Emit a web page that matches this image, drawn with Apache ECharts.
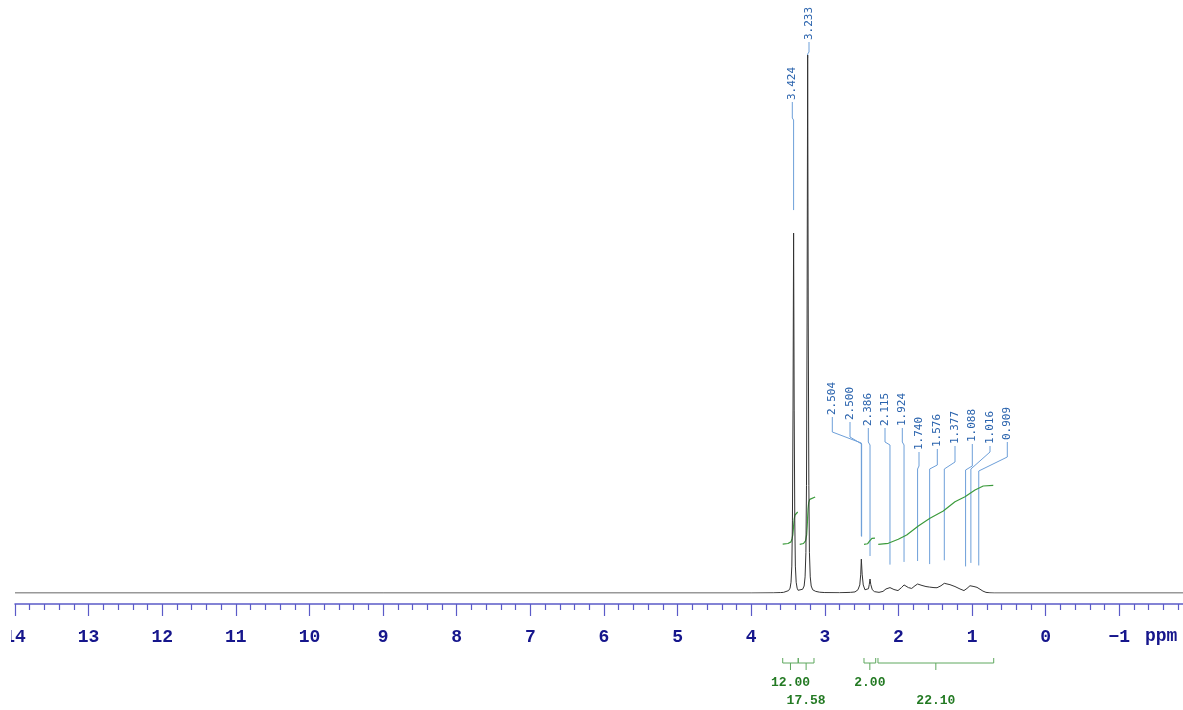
<!DOCTYPE html>
<html><head><meta charset="utf-8">
<script src="https://cdn.jsdelivr.net/npm/echarts@6/dist/echarts.min.js"></script>
<style>html,body{margin:0;padding:0;background:#fff}#c{width:1183px;height:710px}</style>
</head><body><div id="c"></div>
<script>
// ---- DATA (ppm, intensity; tallest peak = 100) ----
const SPECTRUM = [
[14.0,0],[4.0,0],[3.70,0.03],[3.60,0.08],[3.56,0.12],[3.533,0.2],[3.492,0.45],[3.472,0.9],[3.459,2.0],[3.448,5.0],
[3.440,13.4],[3.432,34],[3.424,66.9],[3.416,34],[3.408,13.4],[3.400,5.0],[3.389,2.0],[3.376,0.9],[3.363,0.5],[3.338,0.35],
[3.301,0.7],[3.281,1.3],[3.268,3.0],[3.257,7.5],[3.249,20],[3.241,50],[3.233,100],[3.225,50],[3.217,20],[3.209,7.5],
[3.198,3.0],[3.185,1.3],[3.165,0.6],[3.124,0.3],[3.070,0.15],[3.060,0.15],[3.052,0.5],[3.044,0.15],[3.00,0.08],[2.80,0.05],
[2.65,0.12],[2.590,0.2],[2.550,0.6],[2.525,1.5],[2.512,3.5],[2.504,6.3],[2.500,6.2],[2.493,3.5],[2.478,1.5],[2.455,0.6],
[2.434,0.35],[2.407,0.8],[2.396,1.6],[2.386,2.6],[2.376,1.6],[2.355,0.6],[2.325,0.25],[2.264,0.12],[2.210,0.3],[2.169,0.75],
[2.115,1.0],[2.061,0.65],[2.006,0.45],[1.959,1.0],[1.924,1.5],[1.864,1.0],[1.820,0.85],[1.775,1.35],[1.740,1.67],[1.680,1.4],
[1.626,1.2],[1.576,1.1],[1.517,1.0],[1.476,0.98],[1.422,1.35],[1.377,1.8],[1.300,1.55],[1.232,1.2],[1.164,0.75],[1.110,0.45],
[1.069,0.85],[1.028,1.35],[0.974,1.2],[0.933,1.05],[0.892,0.7],[0.852,0.35],[0.811,0.12],[0.757,0.03],[0.70,0],[-2.0,0]
];
const PEAK_PPM = [3.424,3.233,2.504,2.500,2.386,2.115,1.924,1.740,1.576,1.377,1.088,1.016,0.909];
const PEAK_LABELS = ['3.424','3.233','2.504','2.500','2.386','2.115','1.924','1.740','1.576','1.377','1.088','1.016','0.909'];

const INTEGRAL_A = [[3.572,9.1],[3.50,9.2],[3.46,9.5],[3.445,10.1],[3.435,10.8],[3.428,11.8],[3.422,12.8],[3.415,13.8],[3.405,14.5],[3.39,14.85],[3.368,15.05]];
const INTEGRAL_B = [[3.341,9.05],[3.29,9.2],[3.262,9.7],[3.247,10.8],[3.239,12.5],[3.233,14.2],[3.227,15.7],[3.219,16.8],[3.205,17.4],[3.18,17.7],[3.131,17.85]];
const INTEGRAL_C = [[2.468,9.05],[2.42,9.15],[2.40,9.35],[2.39,9.7],[2.38,10.0],[2.36,10.15],[2.319,10.2]];
const INTEGRAL_D = [[2.274,9.05],[2.138,9.24],[2.002,9.98],[1.888,10.78],[1.730,12.45],[1.572,13.88],[1.391,15.24],[1.232,16.97],[1.096,17.9],[0.960,19.14],[0.848,19.89],[0.712,20.02]];

const INTEGRAL_FROM = [3.572,3.361,2.468,2.278];
const INTEGRAL_TO = [3.361,3.147,2.309,0.706];
const INTEGRAL_VALUES = ['12.00','17.58','2.00','22.10'];

// ---- LAYOUT (pixels) ----
const LBL = {
  x:          [792.3,809,832.3,850,868.3,885,902.3,919,937.3,955,972.3,990,1007.3],
  textBottom: [100,40,415,420,426,426,426,450,447,444,442,444,440],
  bend1:      [118,52,432,437,442,442,442,466,465,462,466,452,457],
  bend2:      [120,54,443,444,445,445,445,469,469,469,470,469,471]
};

function intensityAt(p){
  for (let k=0;k<SPECTRUM.length-1;k++){
    const a=SPECTRUM[k], b=SPECTRUM[k+1];
    if (p<=a[0] && p>=b[0]) { const t=(a[0]-p)/(a[0]-b[0]||1); return a[1]+(b[1]-a[1])*t; }
  }
  return 0;
}

const chart = echarts.init(document.getElementById('c'), null, {renderer:'canvas'});
const BLUE_TXT='#2a63ad', BLUE_LN='#6d9fd9', GREEN='#3c9b3c', GREEN_TXT='#237a23', AXIS='#5b5bc8', AXIS_TXT='#16168c';
const MONO='"Liberation Mono","DejaVu Sans Mono",monospace';

function renderPeakLabel(params, api){
  const i=params.dataIndex, ppm=api.value(0);
  const px=api.coord([ppm,0])[0];
  const top=api.coord([ppm,intensityAt(ppm)])[1];
  const lx=LBL.x[i], tb=LBL.textBottom[i], b1=LBL.bend1[i], b2=LBL.bend2[i];
  const end=Math.max(top-23,b2+4);
  return {type:'group',children:[
    {type:'polyline',shape:{points:[[lx,tb+2],[lx,b1],[px,b2],[px,end]]},style:{stroke:BLUE_LN,lineWidth:1,fill:null}},
    {type:'text',x:lx,y:tb,rotation:Math.PI/2,style:{text:PEAK_LABELS[i],fill:BLUE_TXT,font:'11px "DejaVu Sans Mono",monospace',align:'left',verticalAlign:'middle',textAlign:'left',textVerticalAlign:'middle'}}
  ]};
}
function renderIntegral(params, api){
  const i=params.dataIndex;
  const x1=api.coord([api.value(0),0])[0], x2=api.coord([api.value(1),0])[0];
  const xm=(x1+x2)/2, yb=663, row=i%2;
  return {type:'group',children:[
    {type:'polyline',shape:{points:[[x1,yb-5],[x1,yb],[x2,yb],[x2,yb-5]]},style:{stroke:'#5ea85e',lineWidth:1,fill:null}},
    {type:'line',shape:{x1:xm,y1:yb,x2:xm,y2:yb+7},style:{stroke:'#5ea85e',lineWidth:1}},
    {type:'text',x:xm,y:row?701:683,style:{text:INTEGRAL_VALUES[i],fill:GREEN_TXT,font:'bold 13px '+MONO,align:'center',verticalAlign:'middle',textAlign:'center',textVerticalAlign:'middle'}}
  ]};
}
const intLine = d => ({type:'line',data:d,showSymbol:false,symbol:'none',lineStyle:{color:GREEN,width:1.2},z:2,silent:true});

chart.setOption({
  animation:false,
  backgroundColor:'#fff',
  grid:{left:15,top:55,width:16*73.62,height:538,outerBoundsMode:'none',containLabel:false},
  xAxis:{type:'value',inverse:true,min:-2,max:14,interval:1,offset:11,
    axisLine:{onZero:false,lineStyle:{color:AXIS,width:1.5}},
    axisTick:{show:true,length:12,lineStyle:{color:AXIS,width:1.2}},
    minorTick:{show:true,splitNumber:5,length:6,lineStyle:{color:AXIS,width:1.2}},
    splitLine:{show:false},
    axisLabel:{margin:24,fontFamily:MONO,fontWeight:'bold',fontSize:18,color:AXIS_TXT,
      formatter:v=> v===-2?'' : (v<0?'\u2212'+Math.abs(v):String(v))}
  },
  yAxis:{type:'value',min:0,max:100,show:false},
  graphic:[
    {type:'rect',left:0,top:622,shape:{width:11,height:30},style:{fill:'#fff'},z:100},
    {type:'text',left:1145,top:627,style:{text:'ppm',fill:AXIS_TXT,font:'bold 18px '+MONO},z:100}
  ],
  series:[
    {type:'custom',renderItem:renderPeakLabel,data:PEAK_PPM.map(p=>[p]),encode:{x:0},clip:false,z:1,silent:true},
    intLine(INTEGRAL_A),intLine(INTEGRAL_B),intLine(INTEGRAL_C),intLine(INTEGRAL_D),
    {type:'line',data:SPECTRUM,showSymbol:false,symbol:'none',lineStyle:{color:'#333',width:1},z:3,silent:true},
    {type:'custom',renderItem:renderIntegral,data:INTEGRAL_FROM.map((v,i)=>[v,INTEGRAL_TO[i]]),encode:{x:[0,1]},clip:false,z:1,silent:true}
  ]
});
</script></body></html>
